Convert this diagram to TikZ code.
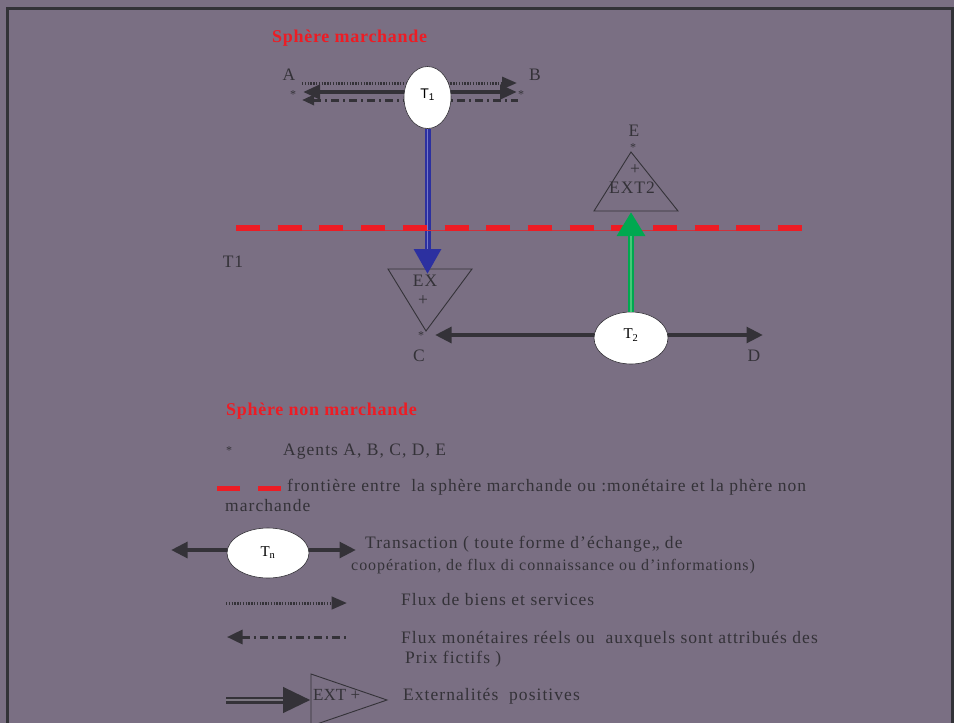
\documentclass[tikz,border=0pt]{standalone}
\usepackage{fontspec}
\setmainfont{Liberation Serif}[LetterSpace=6]
\setsansfont{Liberation Sans}
\newfontfamily\headfont{Liberation Serif}[LetterSpace=4]
\newfontfamily\plainfont{Liberation Serif}
\usetikzlibrary{arrows.meta,shapes.geometric}
\definecolor{bgc}{RGB}{122,111,131}
\definecolor{framec}{RGB}{50,50,55}
\definecolor{ink}{RGB}{52,50,56}
\definecolor{redc}{RGB}{237,28,36}
\definecolor{blueo}{RGB}{44,48,160}
\definecolor{bluei}{RGB}{120,122,200}
\definecolor{greeno}{RGB}{0,168,80}
\definecolor{greeni}{RGB}{70,200,120}
\definecolor{dbli}{RGB}{125,120,130}
\pgfdeclarelayer{back}
\pgfdeclarelayer{bg}
\pgfsetlayers{back,bg,main}
\begin{document}
\begin{tikzpicture}[x=1pt,y=-1pt,
  txt/.style={font=\fontsize{17.5}{21}\selectfont, text=ink, inner sep=0pt, text height=12pt, text depth=3.5pt},
  head/.style={font=\headfont\fontsize{18}{22}\selectfont\bfseries, text=redc, inner sep=0pt, anchor=west, text height=12.5pt, text depth=3.5pt},
  star/.style={font=\plainfont\fontsize{12}{12}\selectfont, text=ink, inner sep=0pt},
  ell/.style={ellipse, draw=ink, line width=0.6pt, fill=white, inner sep=0pt},
  tri/.style={draw=ink, line width=0.9pt, line join=miter},
  blk/.style={draw=ink, line width=4.6pt},
  dotl/.style={draw=ink, line width=3pt, dash pattern=on 1.4pt off 1.4pt},
  ddl/.style={draw=ink, line width=3pt, dash pattern=on 8pt off 4pt on 2pt off 4pt},
  tipA/.tip={Triangle[length=17pt,width=14pt]},
  tipB/.tip={Triangle[length=16.5pt,width=15.5pt]}
]
\useasboundingbox (0,0) rectangle (954,723);
\begin{pgfonlayer}{back}
  \fill[bgc] (0,0) rectangle (954,723);
  \draw[framec, line width=2.6pt] (7.3,723) -- (7.3,8.3) -- (952.6,8.3) -- (952.6,723);
\end{pgfonlayer}

% ---- upper part
\node[head] (hm) at (272,38) {Sphère marchande};
\node[txt] (A) at (289,76) {A};
\node[txt] (B) at (535,76) {B};
\node[star] (sA) at (293,95) {*};
\node[star] (sB) at (521,95) {*};
\node[ell, minimum width=47pt, minimum height=62pt] (T1) at (427.5,97.5)
  {\raisebox{7pt}{\sffamily\fontsize{14}{14}\selectfont T\textsubscript{1}}};

\coordinate (dotL) at (302,83);
\coordinate (dotR) at (517,83);
\coordinate (solL) at (303,92);
\coordinate (solR) at (517,92);
\coordinate (ddL) at (302,100);
\coordinate (ddR) at (518,100);

% EX triangle
\coordinate (exA) at (388,269);
\coordinate (exB) at (472,269);
\coordinate (exC) at (426,331);
\draw[tri] (exA) -- (exB) -- (exC) -- cycle;
\node[txt] (ex) at (425,282) {EX};
\node[txt] (explus) at (423,301) {+};
\node[star] (sC) at (421,336) {*};
\node[txt] (C) at (419,357) {C};

% T2
\node[ell, minimum width=74pt, minimum height=52pt] (T2) at (631,338)
  {\raisebox{8pt}{\fontsize{15}{15}\selectfont T\textsubscript{2}}};
\node[txt] (D) at (754,357) {D};

% EXT2 triangle
\coordinate (e2A) at (631,152);
\coordinate (e2B) at (678,211);
\coordinate (e2C) at (594,211);
\draw[tri] (e2A) -- (e2B) -- (e2C) -- cycle;
\node[txt] (e2plus) at (635,170) {+};
\node[txt] (e2txt) at (632,189) {EXT2};
\node[star] (sE) at (633,148) {*};
\node[txt] (E) at (634,132) {E};

\node[txt] (t1side) at (233,263) {T1};

\coordinate (cdL) at (435,335);
\coordinate (cdR) at (763,335);
\coordinate (bt) at (427.5,274);
\coordinate (gt) at (631,212);
\coordinate (rdL) at (236,228);
\coordinate (rdR) at (802,228);

\begin{pgfonlayer}{bg}
  \draw[dotl, -{Triangle[length=15pt,width=12pt]}] (dotL) -- (dotR);
  \draw[blk, tipA-tipA] (solL) -- (solR);
  \draw[ddl, {Triangle[length=12pt,width=10pt]}-] (ddL) -- (ddR);
  \draw[blk, tipB-tipB] (cdL) -- (cdR);
\end{pgfonlayer}

% blue externality arrow
\draw[line width=6pt, draw=blueo, -{Triangle[length=25pt,width=26pt]}] (T1.south) -- (bt);
\draw[line width=1.4pt, draw=bluei, shorten >=25pt] (T1.south) -- (bt);

% red frontier
\draw[redc!75!bgc, line width=0.8pt] ([yshift=-2.5]rdL) -- ([yshift=-2.5]rdR);
\draw[redc, line width=5.5pt, dash pattern=on 24pt off 17.7pt] (rdL) -- (rdR);

% green externality arrow
\draw[line width=6.5pt, draw=greeno, -{Triangle[length=24pt,width=27pt]}] (T2.north) -- (gt);
\draw[line width=1.5pt, draw=greeni, shorten >=24pt] (T2.north) -- (gt);

% ---- legend
\node[head] (hnm) at (226,411) {Sphère non marchande};
\node[star] (lstar) at (229,451) {*};
\node[txt, anchor=west] (agents) at (283,451) {Agents A, B, C, D, E};

\coordinate (r1a) at (217,488);
\coordinate (r1b) at (240,488);
\coordinate (r2a) at (258,488);
\coordinate (r2b) at (281,488);
\draw[redc, line width=5pt] (r1a) -- (r1b);
\draw[redc, line width=5pt] (r2a) -- (r2b);
\node[txt, anchor=west] (front1) at (287,487) {frontière entre \ la sphère marchande ou :monétaire et la phère non};
\node[txt, anchor=west] (front2) at (225,507) {marchande};

\node[ell, minimum width=82pt, minimum height=50pt] (Tn) at (268,553)
  {\raisebox{3pt}{\fontsize{15}{15}\selectfont T\textsubscript{n}}};
\coordinate (tnL) at (171,550);
\coordinate (tnR) at (356,550);
\begin{pgfonlayer}{bg}
  \draw[blk, tipB-tipB] (tnL) -- (tnR);
\end{pgfonlayer}
\node[txt, anchor=west] (trans1) at (365,544) {Transaction ( toute forme d’échange,, de};
\node[txt, anchor=west, font=\fontsize{16}{19}\selectfont] (trans2) at (351,566) {coopération, de flux di connaissance ou d’informations)};

\coordinate (ldA) at (226,603);
\coordinate (ldB) at (347,603);
\draw[dotl, -{Triangle[length=15.5pt,width=12.5pt]}] (ldA) -- (ldB);
\node[txt, anchor=west] (flux1) at (401,601) {Flux de biens et services};

\coordinate (lmA) at (227,637);
\coordinate (lmB) at (347,637);
\draw[ddl, {Triangle[length=15.5pt,width=14pt]}-] (lmA) -- (lmB);
\node[txt, anchor=west] (flux2) at (401,639) {Flux monétaires réels ou \ auxquels sont attribués des};
\node[txt, anchor=west] (flux3) at (405,659) {Prix fictifs )};

\coordinate (leA) at (226,700);
\coordinate (leB) at (311,700);
\draw[line width=7pt, draw=ink, -{Triangle[length=28pt,width=24pt]}] (leA) -- (leB);
\draw[line width=1.5pt, draw=dbli, shorten >=28pt] (leA) -- (leB);
\coordinate (ltA) at (311,674);
\coordinate (ltB) at (387,700);
\coordinate (ltC) at (311,726);
\draw[tri] (ltA) -- (ltB) -- (ltC) -- cycle;
\node[txt, anchor=west, font=\plainfont\fontsize{17}{20}\selectfont] (extp) at (313,696) {EXT +};
\node[txt, anchor=west] (extl) at (403,696) {Externalités \ positives};
\end{tikzpicture}
\end{document}
